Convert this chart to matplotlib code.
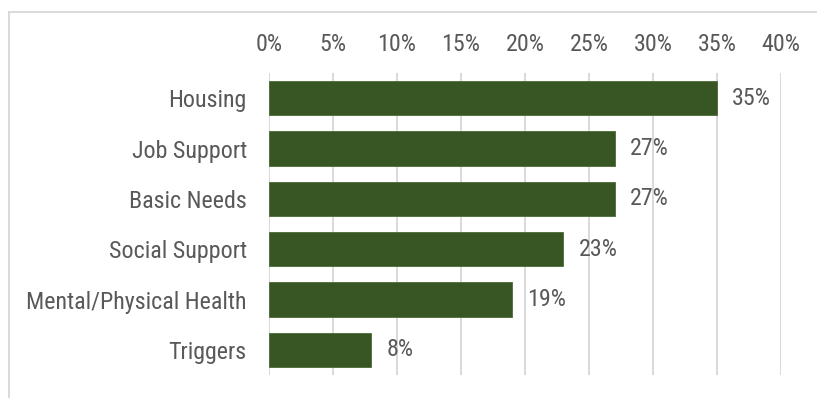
import matplotlib
matplotlib.use("Agg")
import matplotlib.pyplot as plt
from matplotlib.lines import Line2D

plt.rcParams['font.family'] = ['Roboto Condensed', 'Roboto', 'DejaVu Sans']

categories = ["Housing", "Job Support", "Basic Needs", "Social Support",
              "Mental/Physical Health", "Triggers"]
shares = [35, 27, 27, 23, 19, 8]
x_ticks = [0, 5, 10, 15, 20, 25, 30, 35, 40]
x_tick_labels = [f"{t}%" for t in x_ticks]

BAR = "#375623"
TEXT = "#595959"
GRID = "#d9d9d9"

W, H = 817, 398
fig = plt.figure(figsize=(W / 100, H / 100), dpi=100)

# axes placement in pixels: left, right, top, bottom
L, R, T, B = 269, 781, 73, 375
ax = fig.add_axes([L / W, 1 - B / H, (R - L) / W, (B - T) / H])

ypos = list(range(len(categories)))
bars = ax.barh(ypos, shares, height=0.68, color=BAR, edgecolor="#4a6a35",
               linewidth=0.6, zorder=3)
ax.bar_label(bars, labels=[f"{v}%" for v in shares], padding=11,
             color=TEXT, fontsize=17.3)

ax.set_xlim(0, 40)
ax.set_ylim(len(categories) - 0.5, -0.5)
ax.set_yticks(ypos)
ax.set_yticklabels(categories)
ax.set_xticks(x_ticks)
ax.set_xticklabels(x_tick_labels)
ax.xaxis.tick_top()
ax.tick_params(axis="both", length=0, labelsize=17.3, labelcolor=TEXT)
ax.tick_params(axis="y", pad=16)
ax.tick_params(axis="x", pad=12)
ax.grid(axis="x", color=GRID, linewidth=1.4, zorder=0)
for s in ax.spines.values():
    s.set_visible(False)

# outer chart-area frame (open at right and bottom)
fig.add_artist(Line2D([9 / W, 1], [1 - 12 / H, 1 - 12 / H],
                      transform=fig.transFigure, color=GRID, linewidth=1.4))
fig.add_artist(Line2D([9 / W, 9 / W], [0, 1 - 12 / H],
                      transform=fig.transFigure, color=GRID, linewidth=1.4))

fig.savefig("out.png", dpi=100)
